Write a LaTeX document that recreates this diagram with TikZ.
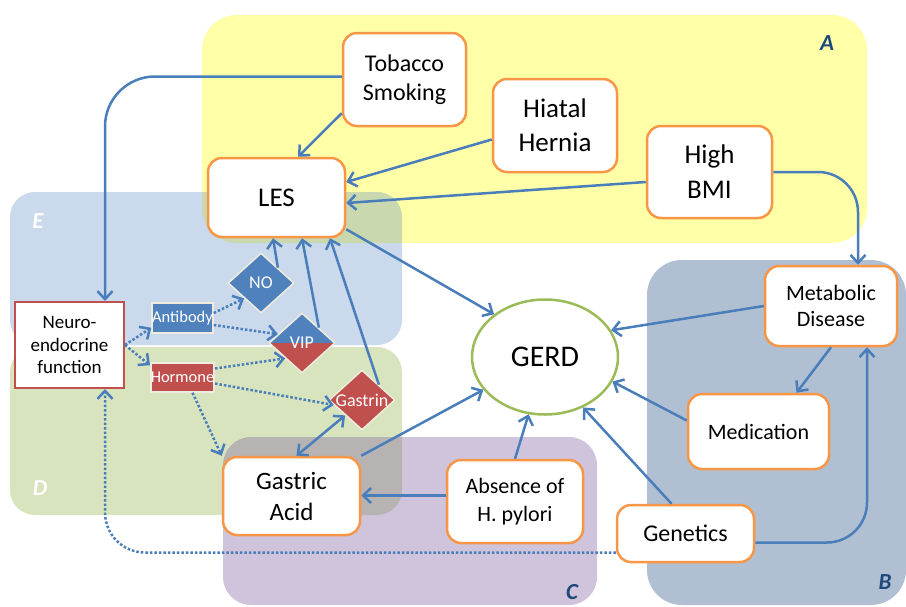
\documentclass[tikz,border=0pt]{standalone}
\usepackage{fontspec}
\setmainfont{Carlito}
\usetikzlibrary{arrows.meta,shapes.geometric}

\definecolor{boxorange}{RGB}{247,150,70}
\definecolor{arrowblue}{RGB}{74,126,187}
\definecolor{gerdgreen}{RGB}{155,187,89}
\definecolor{chemblue}{RGB}{79,129,189}
\definecolor{chemred}{RGB}{192,80,77}
\definecolor{cream}{RGB}{238,236,222}
\definecolor{labelblue}{RGB}{31,73,125}
\definecolor{yellowbg}{RGB}{255,255,168}
\definecolor{purplebg}{RGB}{128,100,162}
\definecolor{slatebg}{RGB}{31,73,125}

\newcommand{\fsz}[2]{\fontsize{#1}{#2}\selectfont}

\begin{document}
\begin{tikzpicture}
  [x=1pt,y=-1pt,
   factor/.style={draw=boxorange,line width=2.5pt,fill=white,rounded corners=14pt,align=center,inner sep=0pt},
   chem/.style={diamond,draw=cream,line width=1.5pt,text=white,inner sep=-2pt,aspect=1.1,minimum width=66pt,minimum height=60pt,font=\fsz{18}{18}},
   signal/.style={rectangle,draw=cream,line width=1.5pt,text=white,inner sep=0pt,minimum width=61pt,minimum height=30pt,font=\fsz{16.5}{17}},
   arr/.style={draw=arrowblue,line width=2.5pt,-{Straight Barb[length=8pt,width=15pt]}},
   dotarr/.style={arr,dash pattern=on 2.5pt off 2pt},
   tag/.style={font=\fsz{23}{23}\bfseries\itshape,text=labelblue}]
  \useasboundingbox (0,0) rectangle (906,606);

  % groups
  \fill[yellowbg,rounded corners=35pt] (202,15) rectangle (867,243);
  \fill[chemblue,opacity=0.3,rounded corners=25pt] (10,192) rectangle (402,345);
  \fill[gerdgreen,opacity=0.4,rounded corners=25pt] (10,347) rectangle (402,515);
  \fill[purplebg,opacity=0.38,rounded corners=28pt] (223,437) rectangle (597,605);
  \fill[slatebg,opacity=0.35,rounded corners=35pt] (647,260) rectangle (906,605);
  \node[tag] (lblA) at (827,43) {A};
  \node[tag] (lblB) at (885,582) {B};
  \node[tag] (lblC) at (572,592) {C};
  \node[tag,text=white] (lblD) at (40,488) {D};
  \node[tag,text=white] (lblE) at (38,221) {E};

  % factors
  \node[factor,minimum width=123pt,minimum height=93pt,font=\fsz{24}{29}] (tobacco) at (404.5,79.5) {Tobacco\\Smoking};
  \node[factor,minimum width=124pt,minimum height=93pt,font=\fsz{27}{34}] (hiatal) at (555,125.5) {Hiatal\\Hernia};
  \node[factor,minimum width=125pt,minimum height=92pt,font=\fsz{27}{35}] (bmi) at (709.5,172) {High\\BMI};
  \node[factor,minimum width=137pt,minimum height=79pt,font=\fsz{27}{32}] (les) at (276.5,197.5) {LES};
  \node[factor,minimum width=132pt,minimum height=80pt,font=\fsz{22}{26}] (metab) at (831,306) {Metabolic\\Disease};
  \node[factor,minimum width=141pt,minimum height=75pt,font=\fsz{22}{26}] (medic) at (758.5,431.5) {Medication};
  \node[factor,minimum width=137pt,minimum height=57pt,font=\fsz{24}{28}] (genet) at (685.5,533.5) {Genetics};
  \node[factor,minimum width=136pt,minimum height=83pt,font=\fsz{22}{28}] (absence) at (515,501.5) {Absence of\\H. pylori};
  \node[factor,minimum width=137pt,minimum height=78pt,font=\fsz{25}{31}] (gastric) at (291.5,496) {Gastric\\Acid};
  \node[ellipse,draw=gerdgreen,line width=2.5pt,fill=white,minimum width=146pt,minimum height=115pt,font=\fsz{30}{30}] (gerd) at (545,357) {GERD};
  \node[rectangle,draw=chemred,line width=2pt,fill=white,minimum width=109pt,minimum height=86pt,inner sep=0pt,align=center,font=\fsz{19}{22.5}] (neuro) at (69.5,345) {Neuro-\\endocrine\\function};

  % signals
  \node[signal,fill=chemblue] (antibody) at (182.5,318) {Antibody};
  \node[signal,fill=chemred,minimum height=29pt] (hormone) at (182.5,377.5) {Hormone};
  \node[chem,fill=chemblue] (no) at (261,283) {NO};
  \node[chem,path picture={
      \fill[chemblue] (path picture bounding box.north west) rectangle (path picture bounding box.east);
      \fill[chemred] (path picture bounding box.west) rectangle (path picture bounding box.south east);}] (vip) at (302,343) {VIP};
  \node[chem,fill=chemred] (gastrin) at (362,400) {Gastrin};

  % solid links
  \draw[arr,rounded corners=50pt] ([yshift=3pt]tobacco.west) -| ([xshift=35.5pt]neuro.north);
  \draw[arr] ([yshift=14pt]tobacco.south west) -- ([xshift=21.5pt]les.north);
  \draw[arr] ([yshift=-14pt]hiatal.west) -- ([yshift=15.5pt]les.east);
  \draw[arr] ([yshift=-10pt]bmi.west) -- ([yshift=-5.5pt]les.east);
  \draw[arr,rounded corners=40pt] (bmi.east) -| ([xshift=27pt]metab.north);
  \draw[arr] ([yshift=9pt]les.south east) -- (gerd.140);
  \draw[arr] ([yshift=11pt]medic.west) -- (gerd.-20);
  \draw[arr] ([xshift=-14pt]genet.north) -- (gerd.-53);
  \foreach \from/\ang in {metab.west/22, absence.north/-106, gastric.north east/208}
    \draw[arr] (\from) -- (gerd.\ang);
  \draw[arr] (metab.south) -- ([xshift=38pt]medic.north);
  \draw[arr,rounded corners=40pt] ([yshift=-9pt]genet.east) -| ([xshift=36pt]metab.south);
  \coordinate (hp) at ([yshift=6pt]absence.west);
  \draw[arr] (hp) -- (hp -| gastric.east);
  \draw[arr,{Straight Barb[length=8pt,width=15pt]}-{Straight Barb[length=8pt,width=15pt]}] ([xshift=5pt]gastric.north) -- (gastrin.south west);
  \draw[arr] (no.north east) -- ([xshift=-3.5pt]les.south);
  \draw[arr] (vip.north east) -- ([xshift=25.5pt]les.south);
  \draw[arr] (gastrin.north east) -- ([xshift=53.5pt]les.south);

  % dotted links
  \draw[dotarr] (neuro.east) -- ([yshift=6pt]antibody.south west);
  \draw[dotarr] (neuro.east) -- ([yshift=-3pt]hormone.north west);
  \draw[dotarr] ([yshift=5pt]antibody.east) -- (no.south west);
  \draw[dotarr] ([yshift=-7pt]antibody.east) -- (vip.160);
  \draw[dotarr] ([yshift=9pt]hormone.east) -- (vip.south west);
  \draw[dotarr] ([yshift=-6pt]hormone.east) -- (gastrin.190);
  \draw[dotarr] ([xshift=10pt]hormone.south) -- (gastric.north west);
  \draw[dotarr,rounded corners=40pt] ([yshift=-19pt]genet.west) -| ([xshift=35.5pt]neuro.south);
\end{tikzpicture}
\end{document}
